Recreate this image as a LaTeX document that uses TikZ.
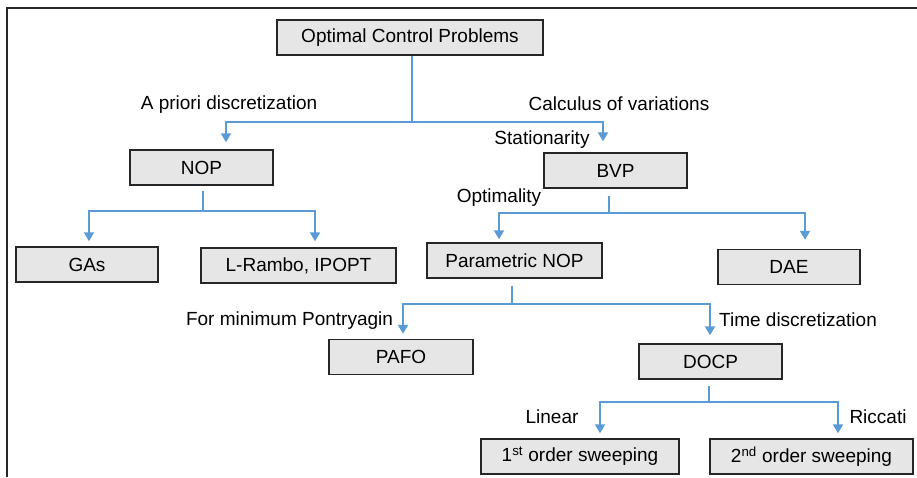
\documentclass[tikz,border=0pt]{standalone}
\usepackage{fontspec}
\setmainfont{Liberation Sans}
\usetikzlibrary{arrows.meta}
\definecolor{boxgray}{HTML}{E7E6E6}
\definecolor{linkblue}{HTML}{5B9BD5}
\definecolor{edgegray}{HTML}{262626}

\begin{document}
\begin{tikzpicture}[x=1pt, y=-1pt,
  font=\fontsize{19}{23}\selectfont,
  box/.style={draw=edgegray, line width=1.4pt, fill=boxgray, inner sep=0pt, minimum height=35pt},
  link/.style={draw=linkblue, line width=2pt},
  arr/.style={link, -{Triangle[width=10pt,length=9pt]}},
  lbl/.style={inner sep=0pt}]
  \useasboundingbox (0,0) rectangle (917,477);
  \draw[edgegray, line width=1.5pt] (917,8) -- (7,8) -- (7,477);

  % boxes
  \node[box, minimum width=266pt] (ocp) at (410,37.5) {Optimal Control Problems};
  \node[box, minimum width=143pt] (nop) at (201.5,167.5) {NOP};
  \node[box, minimum width=143pt] (bvp) at (615.5,170.5) {BVP};
  \node[box, minimum width=142pt] (gas) at (87,264.5) {GAs};
  \node[box, minimum width=195pt] (lrambo) at (298.5,265.5) {L-Rambo, IPOPT};
  \node[box, minimum width=175pt] (pnop) at (514.5,260.5) {Parametric NOP};
  \node[box, minimum width=142pt] (dae) at (789,267) {DAE};
  \node[box, minimum width=144pt] (pafo) at (401,357) {PAFO};
  \node[box, minimum width=143pt] (docp) at (710.5,361.5) {DOCP};
  \node[box, minimum width=198pt] (sweep1) at (580,456.5) {1\textsuperscript{st} order sweeping};
  \node[box, minimum width=203pt] (sweep2) at (811.5,456.5) {2\textsuperscript{nd} order sweeping};

  % labels
  \node[lbl] (apriori) at (229,104.5) {A priori discretization};
  \node[lbl] (calcvar) at (619,103.5) {Calculus of variations};
  \node[lbl] (station) at (542,140) {Stationarity};
  \node[lbl] (optim) at (499,198) {Optimality};
  \node[lbl] (pontry) at (289.5,320.5) {For minimum Pontryagin};
  \node[lbl] (timedisc) at (798,320) {Time discretization};
  \node[lbl] (linear) at (552,417) {Linear};
  \node[lbl] (riccati) at (878,417) {Riccati};

  % branch points
  \coordinate (j1) at (412,122);
  \coordinate (j2) at (203,211);
  \coordinate (j3) at (609,213);
  \coordinate (j4) at (512,304);
  \coordinate (j5) at (709,402);

  % connectors
  \draw[link] (ocp.south -| j1) -- (j1);
  \draw[arr, shorten >=7pt] (j1) -| ([xshift=24.5pt]nop.north);
  \draw[arr, shorten >=11pt] (j1) -| ([xshift=-12.5pt]bvp.north);

  \draw[link, shorten <=5pt] (nop.south -| j2) -- (j2);
  \draw[arr, shorten >=5pt] (j2) -| ([xshift=2pt]gas.north);
  \draw[arr, shorten >=6pt] (j2) -| ([xshift=16.5pt]lrambo.north);

  \draw[link, shorten <=7pt] (bvp.south -| j3) -- (j3);
  \draw[arr, shorten >=3pt] (j3) -| ([xshift=-15.5pt]pnop.north);
  \draw[arr, shorten >=9pt] (j3) -| ([xshift=16pt]dae.north);

  \draw[link, shorten <=7pt] (pnop.south -| j4) -- (j4);
  \draw[arr, shorten >=5pt] (j4) -| ([xshift=2pt]pafo.north);
  \draw[arr, shorten >=8pt] (j4) -| ([xshift=-0.5pt]docp.north);

  \draw[link, shorten <=6pt] (docp.south -| j5) -- (j5);
  \draw[arr, shorten >=5pt] (j5) -| ([xshift=20pt]sweep1.north);
  \draw[arr, shorten >=5pt] (j5) -| ([xshift=26.5pt]sweep2.north);
\end{tikzpicture}
\end{document}
